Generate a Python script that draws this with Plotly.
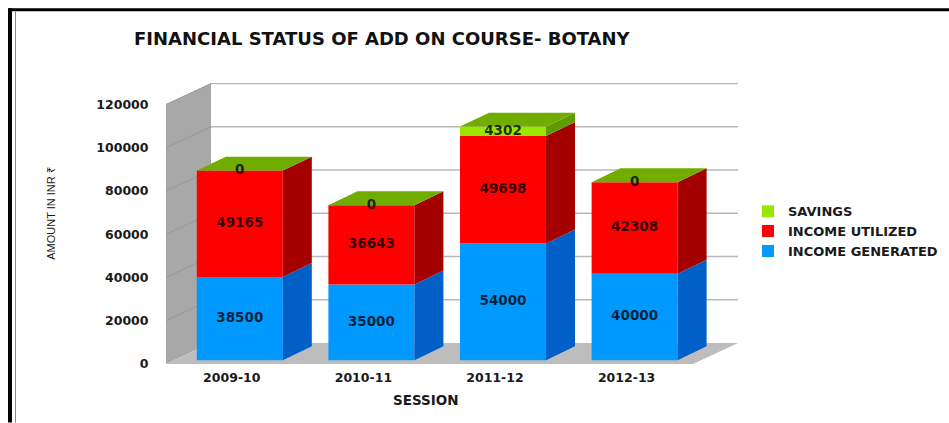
import plotly.graph_objects as go

sessions = ["2009-10", "2010-11", "2011-12", "2012-13"]
income_generated = [38500, 35000, 54000, 40000]
income_utilized = [49165, 36643, 49698, 42308]
savings = [0, 0, 4302, 0]
y_ticks = [0, 20000, 40000, 60000, 80000, 100000, 120000]

W, H = 949, 423
L, R, T, B = 166, 738, 83, 364.5
px_x = 131.6                 # pixels per category
px_y = 260 / 120000          # pixels per unit
XMAX = (R - L) / px_x
YMAX = (B - T) / px_y
WALL_DX, WALL_DY = 45 / px_x, 21 / px_y
BAR_W = 86 / px_x
BAR_SHIFT = 8 / px_x
BAR_BASE = 3.8 / px_y
DEPTH_X, DEPTH_Y = 29 / px_x, 14 / px_y

series = [
    ("INCOME GENERATED", income_generated, "#0099ff", "#0060c8"),
    ("INCOME UTILIZED", income_utilized, "#ff0000", "#a50000"),
    ("SAVINGS", savings, "#99e600", "#5f9a00"),
]
TOP_COLOR = "#70ad00"
TEXT = "#1a1a1a"
FONT = "DejaVu Sans"

centers = [i + 0.5 + BAR_SHIFT for i in range(len(sessions))]
fig = go.Figure()

# front faces
bottoms = [BAR_BASE] * len(sessions)
levels = []
for name, vals, col, dark in series:
    fig.add_trace(go.Bar(
        x=centers, y=vals, base=bottoms, width=BAR_W, name=name,
        marker=dict(color=col, line=dict(width=0)),
    ))
    levels.append(list(bottoms))
    bottoms = [b + v for b, v in zip(bottoms, vals)]
tops = bottoms

# side faces
for (name, vals, col, dark), lo in zip(series, levels):
    xs, ys = [], []
    for c, b, v in zip(centers, lo, vals):
        if v == 0:
            continue
        r = c + BAR_W / 2
        xs += [r, r + DEPTH_X, r + DEPTH_X, r, r, None]
        ys += [b, b + DEPTH_Y, b + v + DEPTH_Y, b + v, b, None]
    fig.add_trace(go.Scatter(x=xs, y=ys, mode="lines", fill="toself", fillcolor=dark,
                             line=dict(width=0), showlegend=False, hoverinfo="skip"))

# top faces
xs, ys = [], []
for c, t in zip(centers, tops):
    l, r = c - BAR_W / 2, c + BAR_W / 2
    xs += [l, r, r + DEPTH_X, l + DEPTH_X, l, None]
    ys += [t, t, t + DEPTH_Y, t + DEPTH_Y, t, None]
fig.add_trace(go.Scatter(x=xs, y=ys, mode="lines", fill="toself", fillcolor=TOP_COLOR,
                         line=dict(width=0), showlegend=False, hoverinfo="skip"))

# value labels
for (name, vals, col, dark), lo in zip(series, levels):
    fig.add_trace(go.Scatter(
        x=centers, y=[b + v / 2 for b, v in zip(lo, vals)], mode="text",
        text=[str(v) for v in vals], textposition="middle center",
        textfont=dict(family=FONT, size=13.5, color="rgba(0,0,0,0.78)", weight="bold"),
        showlegend=False, hoverinfo="skip"))

# wall, floor and gridlines behind the bars
shapes = [
    dict(type="path", xref="x", yref="y", layer="below", line=dict(width=0), fillcolor="#a8a8a8",
         path=f"M0,0 L0,{y_ticks[-1]} L{WALL_DX},{y_ticks[-1] + WALL_DY} L{WALL_DX},{WALL_DY} Z"),
    dict(type="path", xref="x", yref="y", layer="below", line=dict(width=0), fillcolor="#bdbdbd",
         path=f"M0,0 L{XMAX - WALL_DX},0 L{XMAX},{WALL_DY} L{WALL_DX},{WALL_DY} Z"),
]
for t in y_ticks[1:]:
    shapes.append(dict(type="line", xref="x", yref="y", layer="below", x0=0, y0=t,
                       x1=WALL_DX, y1=t + WALL_DY, line=dict(color="#989898", width=1)))
    shapes.append(dict(type="line", xref="x", yref="y", layer="below", x0=WALL_DX, y0=t + WALL_DY,
                       x1=XMAX, y1=t + WALL_DY, line=dict(color="#b8b8b8", width=1.5)))


def fx(p):
    return (p - L) / (W - L)


def fy(p):
    return (B - p) / (B - T)


# black page frame
for x0, y0, x1, y1, c in [(8, 8, W, 11, "#000000"), (8, 8, 12, H, "#000000"), (15, 11, 16, H, "#8a8a8a")]:
    shapes.append(dict(type="rect", xref="paper", yref="paper", x0=fx(x0), x1=fx(x1),
                       y0=fy(y1), y1=fy(y0), line=dict(width=0), fillcolor=c, layer="above"))

fig.update_layout(
    width=W, height=H, autosize=False,
    margin=dict(l=L, r=0, t=T, b=H - B, pad=0),
    paper_bgcolor="white", plot_bgcolor="white",
    barmode="overlay", shapes=shapes,
    xaxis=dict(domain=[0, fx(R)], range=[0, XMAX], tickmode="array",
               tickvals=[i + 0.5 for i in range(len(sessions))],
               ticktext=sessions, showgrid=False, zeroline=False, showline=False,
               ticks="outside", ticklen=2, tickcolor="rgba(0,0,0,0)",
               tickfont=dict(family=FONT, size=12.5, color=TEXT, weight="bold")),
    yaxis=dict(range=[0, YMAX], tickmode="array", tickvals=y_ticks,
               ticktext=[str(t) for t in y_ticks], showgrid=False,
               zeroline=False, showline=False, ticks="outside", ticklen=14,
               tickcolor="rgba(0,0,0,0)",
               tickfont=dict(family=FONT, size=12.5, color=TEXT, weight="bold")),
    legend=dict(x=fx(748), xanchor="left", y=fy(231.5), yanchor="middle", traceorder="reversed",
                font=dict(family=FONT, size=13, color=TEXT, weight="bold"),
                bgcolor="rgba(0,0,0,0)", tracegroupgap=0),
    annotations=[
        dict(text="FINANCIAL STATUS OF ADD ON COURSE- BOTANY", xref="paper", yref="paper",
             x=fx(382), y=fy(38), showarrow=False, xanchor="center", yanchor="middle",
             font=dict(family=FONT, size=18, color="#111111", weight="bold")),
        dict(text="SESSION", xref="paper", yref="paper", x=fx(426), y=fy(401), showarrow=False,
             xanchor="center", yanchor="middle",
             font=dict(family=FONT, size=13.5, color=TEXT, weight="bold")),
        dict(text="AMOUNT IN INR ₹", xref="paper", yref="paper", x=fx(51), y=fy(214), showarrow=False,
             textangle=-90, xanchor="center", yanchor="middle",
             font=dict(family="Liberation Sans", size=11, color=TEXT)),
    ],
)

fig.write_html("out.html", post_script="document.body.style.margin='0';",
               config={"displayModeBar": False})
